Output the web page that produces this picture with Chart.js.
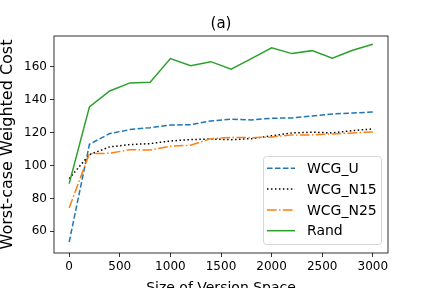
<!DOCTYPE html>
<html>
<head>
<meta charset="utf-8">
<script src="https://cdn.jsdelivr.net/npm/chart.js@4.4.0/dist/chart.umd.min.js"></script>
<style>
  html, body { margin: 0; padding: 0; background: #fff; }
  canvas { display: block; }
</style>
</head>
<body>
<canvas id="chart" width="432" height="288"></canvas>
<script>
// version space sizes
const sizes = [0, 200, 400, 600, 800, 1000, 1200, 1400, 1600, 1800, 2000, 2200, 2400, 2600, 2800, 3000];

const wcgU   = [53.5, 112.9, 119.4, 121.8, 123.0, 124.6, 124.8, 127.1, 128.1, 127.7, 128.7, 128.9, 130.1, 131.3, 131.9, 132.5];
const wcgN15 = [92.0, 106.6, 111.3, 112.7, 113.3, 114.9, 115.7, 116.1, 115.7, 116.3, 118.0, 119.8, 120.2, 119.8, 121.2, 122.2];
const wcgN25 = [74.2, 107.2, 107.4, 109.6, 109.4, 111.7, 112.3, 116.3, 117.1, 116.9, 117.3, 118.6, 118.6, 119.2, 119.8, 120.4];
const rand   = [89.0, 135.6, 145.3, 150.2, 150.6, 165.0, 160.7, 163.1, 158.5, 165.0, 171.5, 168.0, 169.8, 165.2, 170.0, 173.7];

const xTicks = [0, 500, 1000, 1500, 2000, 2500, 3000];
const yTicks = [60, 80, 100, 120, 140, 160];

const FONT = 'DejaVu Sans';

const toPts = (ys) => sizes.map((x, i) => ({ x: x, y: ys[i] }));

const series = [
  { label: 'WCG_U',   data: wcgU,   color: '#1f77b4', dash: [5.55, 2.4] },
  { label: 'WCG_N15', data: wcgN15, color: '#000000', dash: [1.5, 2.475] },
  { label: 'WCG_N25', data: wcgN25, color: '#ff7f0e', dash: [9.6, 2.4, 1.5, 2.4] },
  { label: 'Rand',    data: rand,   color: '#2ca02c', dash: [] },
];

// frame, title and legend drawn by hand, matplotlib style
const framePlugin = {
  id: 'frame',
  afterDraw(chart) {
    const { ctx, chartArea: a } = chart;
    ctx.save();
    ctx.strokeStyle = '#000';
    ctx.lineWidth = 0.8;
    ctx.strokeRect(a.left, a.top, a.right - a.left, a.bottom - a.top);

    // title centred over the axes
    ctx.fillStyle = '#000';
    ctx.font = '15px "' + FONT + '"';
    ctx.textAlign = 'center';
    ctx.textBaseline = 'middle';
    ctx.fillText('(a)', (a.left + a.right) / 2, 24.5);

    // legend box
    const bx = 263.5, by = 156.5, bw = 118, bh = 88, r = 3;
    ctx.beginPath();
    ctx.moveTo(bx + r, by);
    ctx.arcTo(bx + bw, by, bx + bw, by + bh, r);
    ctx.arcTo(bx + bw, by + bh, bx, by + bh, r);
    ctx.arcTo(bx, by + bh, bx, by, r);
    ctx.arcTo(bx, by, bx + bw, by, r);
    ctx.closePath();
    ctx.fillStyle = 'rgba(255,255,255,0.8)';
    ctx.fill();
    ctx.strokeStyle = '#cccccc';
    ctx.lineWidth = 0.8;
    ctx.stroke();

    const rows = [168.3, 189, 210, 230.7];
    ctx.font = '14px "' + FONT + '"';
    ctx.textBaseline = 'middle';
    ctx.textAlign = 'left';
    series.forEach((s, i) => {
      const y = rows[i];
      ctx.beginPath();
      ctx.setLineDash(s.dash);
      ctx.strokeStyle = s.color;
      ctx.lineWidth = 1.5;
      ctx.moveTo(267, y);
      ctx.lineTo(295, y);
      ctx.stroke();
      ctx.setLineDash([]);
      ctx.fillStyle = '#000';
      ctx.fillText(s.label, 307, y + 1);
    });
    ctx.restore();
  }
};

new Chart(document.getElementById('chart'), {
  type: 'line',
  data: {
    datasets: series.map((s, i) => ({
      label: s.label,
      data: toPts(s.data),
      borderColor: s.color,
      borderDash: s.dash,
      borderWidth: 1.5,
      pointRadius: 0,
      tension: 0,
      fill: false,
      order: series.length - i,
    })),
  },
  options: {
    responsive: false,
    animation: false,
    layout: { padding: { left: 0, right: 44, top: 36, bottom: 0 } },
    plugins: {
      legend: { display: false },
      tooltip: { enabled: false },
      title: { display: false },
    },
    scales: {
      x: {
        type: 'linear',
        min: -150,
        max: 3150,
        afterFit: (s) => { s.height = 35; },
        afterBuildTicks: (s) => { s.ticks = xTicks.map(v => ({ value: v })); },
        grid: { display: true, drawOnChartArea: false, drawTicks: true, tickLength: 4, color: '#000', lineWidth: 0.8 },
        border: { display: false },
        ticks: { color: '#000', padding: 3, maxRotation: 0, font: { family: FONT, size: 12 }, callback: (v) => String(v) },
        title: {
          display: true,
          text: 'Size of Version Space',
          color: '#000',
          font: { family: FONT, size: 14, lineHeight: 1 },
          padding: { top: 0, bottom: -7.5 },
        },
      },
      y: {
        type: 'linear',
        min: 46.8,
        max: 178.7,
        afterFit: (s) => { s.width = 54; },
        afterBuildTicks: (s) => { s.ticks = yTicks.map(v => ({ value: v })); },
        grid: { display: true, drawOnChartArea: false, drawTicks: true, tickLength: 4, color: '#000', lineWidth: 0.8 },
        border: { display: false },
        ticks: { color: '#000', padding: 3, font: { family: FONT, size: 12 }, callback: (v) => String(v) },
        title: {
          display: true,
          text: 'Worst-case Weighted Cost',
          color: '#000',
          font: { family: FONT, size: 16, lineHeight: 1 },
          padding: { top: 0, bottom: 0 },
        },
      },
    },
  },
  plugins: [framePlugin],
});
</script>
</body>
</html>
